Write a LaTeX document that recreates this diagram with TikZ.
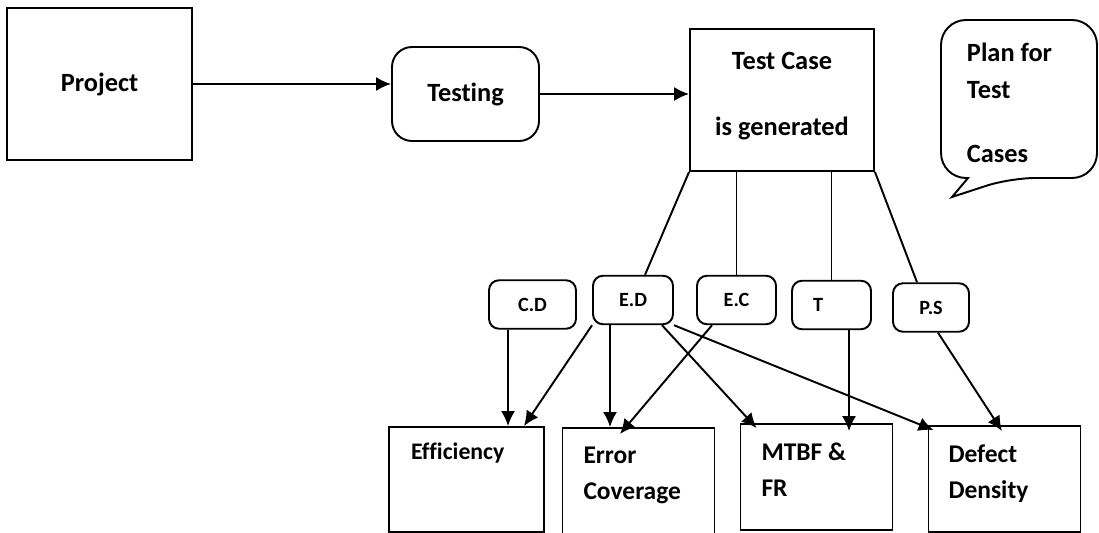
\documentclass[tikz,border=0pt]{standalone}
\usepackage{fontspec}
\setmainfont{Carlito}[Ligatures=NoCommon]
\usetikzlibrary{arrows.meta}

\begin{document}
\begin{tikzpicture}[>={Latex[length=8.5pt, width=8pt]}, line width=1.1pt,
    big/.style={draw, inner sep=0pt, align=center, font=\fontsize{15}{21}\selectfont\bfseries},
    small/.style={draw, rounded corners=0.2cm, inner sep=0pt, minimum height=0.97cm, font=\fontsize{11.5}{14}\selectfont\bfseries},
    res/.style={draw, inner sep=0pt, minimum width=3.04cm, minimum height=2.12cm},
    lbl/.style={anchor=base west, inner sep=0pt, align=left, font=\fontsize{14.5}{20.4}\selectfont\bfseries}]
    \clip (0,0) rectangle (21.98,-10.66);
    % top row
    \node[big, minimum width=3.7cm, minimum height=3.04cm] (proj) at (1.99,-1.68) {Project};
    \node[big, rounded corners=0.4cm, minimum width=2.94cm, minimum height=1.88cm] (testing) at (9.31,-1.88) {Testing};
    \node[big, minimum width=3.68cm, minimum height=2.84cm] (tcase) at (15.64,-2.0) {Test Case\\[16.4pt]is generated\\[-14pt]};
    \draw[->] (proj.east) -- (proj.east -| testing.west);
    \draw[->] (testing.east) -- (testing.east -| tcase.west);
    % speech bubble
    \coordinate (tip) at (19.04,-3.94);
    \draw[rounded corners=0.5cm] (19.36,-3.56) -- (18.82,-3.56) -- (18.82,-0.40) -- (21.94,-0.40)
        -- (21.94,-3.56) -- (20.2,-3.56) [sharp corners] -- (tip) -- cycle;
    \node[lbl, font=\fontsize{15}{21}\selectfont\bfseries] (plan) at (19.32,-3.26) {Plan for\\Test\\[15.9pt]Cases};
    % middle row
    \node[small, minimum width=1.74cm] (cd) at (10.65,-6.09) {C.D};
    \node[small, minimum width=1.6cm] (ed) at (12.66,-6.0) {E.D};
    \node[small, minimum width=1.58cm] (ec) at (14.73,-6.0) {E.C};
    \node[small, minimum width=1.58cm] (tt) at (16.63,-6.1) {T\kern0.54cm};
    \node[small, minimum width=1.52cm] (ps) at (18.62,-6.15) {P.S};
    \draw (tcase.south west) -- ([xshift=0.24cm]ed.north);
    \draw (ec.north |- tcase.south) -- (ec.north);
    \draw (tt.north |- tcase.south) -- (tt.north);
    \draw (tcase.south east) -- ([xshift=-0.28cm]ps.north);
    % bottom row
    \node[res, minimum width=3.1cm, minimum height=2.1cm] (eff) at (9.33,-9.59) {};
    \node[res, minimum height=2.34cm] (errc) at (12.77,-9.73) {};
    \node[res] (mtbf) at (16.33,-9.54) {};
    \node[res] (dd) at (20.09,-9.58) {};
    \node[lbl, font=\fontsize{13.5}{19}\selectfont\bfseries] (effl) at ([xshift=0.44cm, yshift=-0.66cm]eff.north west) {Efficiency};
    \node[lbl] (errcl) at ([xshift=0.42cm, yshift=-1.44cm]errc.north west) {Error\\Coverage};
    \node[lbl] (mtbfl) at ([xshift=0.42cm, yshift=-1.46cm]mtbf.north west) {MTBF \&\\FR};
    \node[lbl] (ddl) at ([xshift=0.40cm, yshift=-1.47cm]dd.north west) {Defect\\Density};
    % arrows
    \draw[->] ([xshift=-0.49cm]cd.south) -- ([xshift=0.83cm]eff.north);
    \draw[->] (ed.south west) -- ([xshift=1.15cm]eff.north);
    \draw[->] ([xshift=-0.46cm]ed.south) -- ([xshift=-0.57cm]errc.north);
    \draw[->] ([xshift=0.58cm]ed.south) -- ([xshift=0.34cm, yshift=-0.1cm]mtbf.north west);
    \draw[->] (ed.south east) -- ([xshift=0.12cm, yshift=-0.1cm]dd.north west);
    \draw[->] ([xshift=-0.49cm]ec.south) -- ([xshift=-0.37cm, yshift=-0.14cm]errc.north);
    \draw[->] ([xshift=0.35cm]tt.south) -- ([xshift=0.65cm, yshift=-0.16cm]mtbf.north);
    \draw[->] ([xshift=0.14cm]ps.south) -- ([xshift=-0.05cm, yshift=-0.12cm]dd.north);
\end{tikzpicture}
\end{document}
